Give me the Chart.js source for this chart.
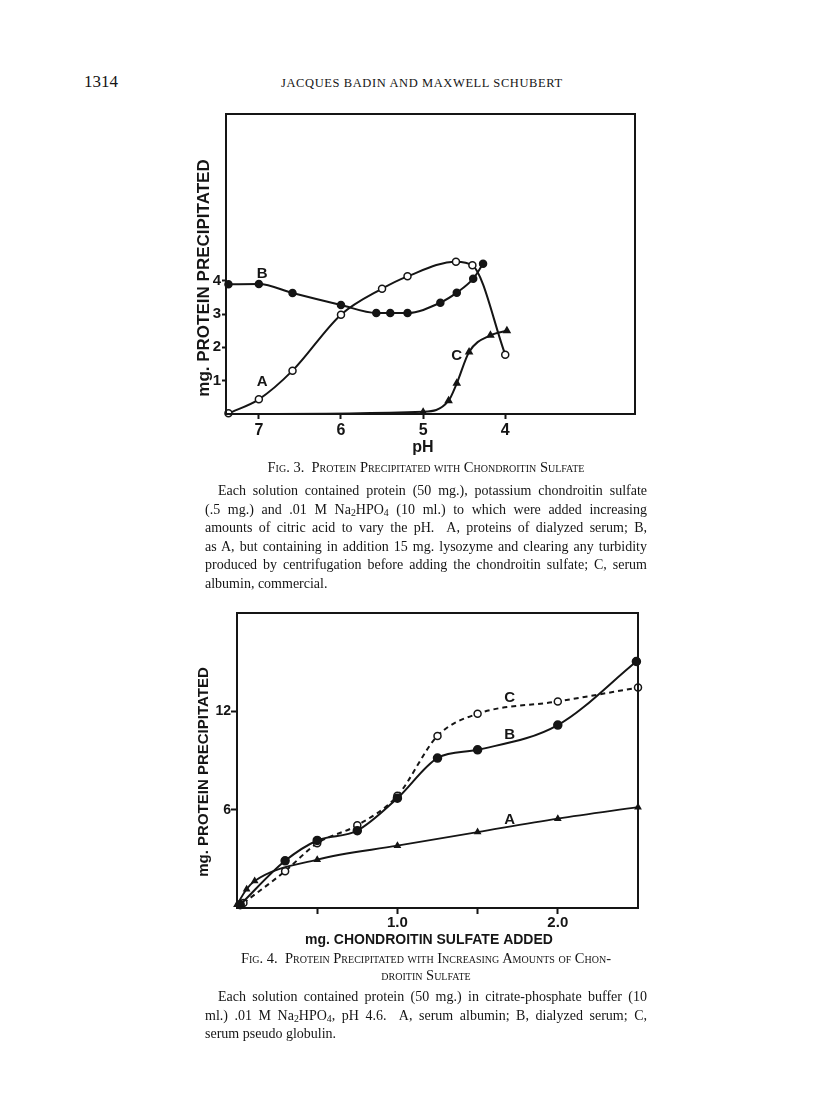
<!DOCTYPE html>
<html>
<head>
<meta charset="utf-8">
<script src="https://cdn.jsdelivr.net/npm/chart.js@4.4.1/dist/chart.umd.min.js"></script>
<style>
  body { margin: 0; background: #fff; }
  #page { position: relative; width: 816px; height: 1109px; overflow: hidden; font-family: "Liberation Serif", serif; color: #151515; }
  .abs { position: absolute; }
  .folio { left: 84px; top: 72px; font-size: 17px; }
  .running { left: 281px; top: 76px; font-size: 12.5px; letter-spacing: .6px; white-space: nowrap; }
  .cap { left: 205px; width: 442px; text-align: center; font-variant: small-caps; font-size: 14.5px; line-height: 17px; white-space: nowrap; }
  .para { left: 205px; width: 442px; font-size: 14px; line-height: 18.5px; }
  .para div { white-space: nowrap; text-align: justify; text-align-last: justify; }
  .para div.first { padding-left: 13px; }
  .para div.last { text-align: left; text-align-last: left; }
  sub { font-size: .7em; line-height: 0; vertical-align: -.25em; }
  canvas { position: absolute; }
</style>
</head>
<body>
<div id="page">
  <div class="abs folio">1314</div>
  <div class="abs running">JACQUES BADIN AND MAXWELL SCHUBERT</div>

  <canvas id="fig3" width="470" height="360" style="left:180px;top:100px"></canvas>

  <div class="abs cap" style="top:459px">Fig. 3.&nbsp; Protein Precipitated with Chondroitin Sulfate</div>
  <div class="abs para" style="top:482px">
    <div class="first">Each solution contained protein (50 mg.), potassium chondroitin sulfate</div>
    <div>(.5 mg.) and .01 M Na<sub>2</sub>HPO<sub>4</sub> (10 ml.) to which were added increasing</div>
    <div>amounts of citric acid to vary the pH.&nbsp; A, proteins of dialyzed serum; B,</div>
    <div>as A, but containing in addition 15 mg. lysozyme and clearing any turbidity</div>
    <div>produced by centrifugation before adding the chondroitin sulfate; C, serum</div>
    <div class="last">albumin, commercial.</div>
  </div>

  <canvas id="fig4" width="470" height="350" style="left:185px;top:600px"></canvas>

  <div class="abs cap" style="top:950px">Fig. 4.&nbsp; Protein Precipitated with Increasing Amounts of Chon-<br>droitin Sulfate</div>
  <div class="abs para" style="top:988px">
    <div class="first">Each solution contained protein (50 mg.) in citrate-phosphate buffer (10</div>
    <div>ml.) .01 M Na<sub>2</sub>HPO<sub>4</sub>, pH 4.6.&nbsp; A, serum albumin; B, dialyzed serum; C,</div>
    <div class="last">serum pseudo globulin.</div>
  </div>
</div>

<script>
  // Fig. 3 - protein precipitated against pH
  const phA = [7.37, 7.0, 6.59, 6.0, 5.5, 5.19, 4.6, 4.4, 4.0];
  const protA = [0.02, 0.44, 1.3, 2.98, 3.76, 4.13, 4.57, 4.46, 1.78];
  const phB = [7.37, 7.0, 6.59, 6.0, 5.57, 5.4, 5.19, 4.79, 4.59, 4.39, 4.27];
  const protB = [3.89, 3.9, 3.63, 3.27, 3.03, 3.03, 3.03, 3.34, 3.64, 4.06, 4.51];
  const phC = [7.37, 5.0, 4.69, 4.59, 4.44, 4.18, 3.98];
  const protC = [0, 0.07, 0.4, 0.92, 1.86, 2.36, 2.5];
  const phTicks = [7, 6, 5, 4];
  const fig3YTicks = [1, 2, 3, 4];

  // Fig. 4 - protein precipitated against chondroitin sulfate added
  const sulfA = [0, 0.06, 0.11, 0.5, 1.0, 1.5, 2.0, 2.5];
  const protA4 = [0.2, 1.15, 1.65, 2.95, 3.8, 4.63, 5.45, 6.15];
  const sulfB = [0.02, 0.3, 0.5, 0.75, 1.0, 1.25, 1.5, 2.0, 2.49];
  const protB4 = [0.2, 2.88, 4.12, 4.72, 6.7, 9.15, 9.65, 11.16, 15.04];
  const sulfC = [0.04, 0.3, 0.5, 0.75, 1.0, 1.25, 1.5, 2.0, 2.5];
  const protC4 = [0.3, 2.25, 3.95, 5.05, 6.85, 10.5, 11.85, 12.6, 13.45];
  const sulfTicks = [0.5, 1.0, 1.5, 2.0];
  const sulfLabels = ['', '1.0', '', '2.0'];
  const fig4YTicks = [6, 12];

  const ink = '#151515';
  const pts = (xs, ys) => xs.map((x, i) => ({ x: x, y: ys[i] }));

  // frame, curve letters and axis titles, drawn the way the figure is lettered
  const paperFrame = {
    id: 'paperFrame',
    afterDatasetsDraw(chart, args, opts) {
      const { ctx, chartArea: a } = chart;
      const x = chart.scales.x, y = chart.scales.y;
      ctx.save();
      ctx.strokeStyle = ink;
      ctx.lineWidth = 2;
      ctx.strokeRect(a.left, a.top, a.right - a.left, a.bottom - a.top);
      ctx.fillStyle = ink;
      ctx.textAlign = 'center';
      ctx.textBaseline = 'middle';
      ctx.font = 'bold 15px "Liberation Sans"';
      opts.letters.forEach(l => ctx.fillText(l.t, x.getPixelForValue(l.x), y.getPixelForValue(l.y)));
      ctx.font = opts.xTitleFont;
      ctx.fillText(opts.xTitle, opts.xTitleAt[0], opts.xTitleAt[1]);
      ctx.font = opts.yTitleFont;
      ctx.translate(opts.yTitleAt[0], opts.yTitleAt[1]);
      ctx.rotate(-Math.PI / 2);
      ctx.fillText(opts.yTitle, 0, 0);
      ctx.restore();
    }
  };

  function lineSet(xs, ys, style) {
    return Object.assign({
      data: pts(xs, ys),
      showLine: true,
      borderColor: ink,
      borderWidth: 2,
      cubicInterpolationMode: 'monotone',
      pointStyle: 'circle',
      pointRadius: 3.5,
      pointBackgroundColor: ink,
      pointBorderColor: ink,
      pointBorderWidth: 1.5,
      clip: false
    }, style);
  }

  function tickAxis(min, max, ticks, font, len, pad, extra) {
    return Object.assign({
      type: 'linear',
      min: min,
      max: max,
      afterBuildTicks: s => { s.ticks = ticks.map(v => ({ value: v })); },
      grid: { drawOnChartArea: false, drawTicks: true, tickLength: len, tickWidth: 2, tickColor: ink },
      border: { display: false },
      ticks: { color: ink, font: font, padding: pad }
    }, extra);
  }

  new Chart(document.getElementById('fig3'), {
    type: 'scatter',
    data: {
      datasets: [
        lineSet(phA, protA, { pointBackgroundColor: '#fff' }),
        lineSet(phB, protB, {}),
        lineSet(phC, protC, { pointStyle: 'triangle', pointRadius: [0, 3, 3.5, 3.5, 3.5, 3.5, 3.5] })
      ]
    },
    options: {
      responsive: false,
      animation: false,
      events: [],
      layout: { padding: { left: 26, top: 14, right: 15, bottom: 0 } },
      scales: {
        x: tickAxis(2.42, 7.4, phTicks, { family: 'Liberation Sans', weight: 'bold', size: 16 }, 5, 2,
          { reverse: true, afterFit: s => { s.height = 46; } }),
        y: tickAxis(0, 9, fig3YTicks, { family: 'Liberation Sans', weight: 'bold', size: 15 }, 4, 1,
          { afterFit: s => { s.width = 20; } })
      },
      plugins: {
        legend: { display: false },
        tooltip: { enabled: false },
        paperFrame: {
          letters: [{ t: 'A', x: 6.96, y: 0.95 }, { t: 'B', x: 6.96, y: 4.2 }, { t: 'C', x: 4.59, y: 1.75 }],
          xTitle: 'pH', xTitleAt: [243, 348], xTitleFont: 'bold 16px "Liberation Sans"',
          yTitle: 'mg. PROTEIN PRECIPITATED', yTitleAt: [24, 178], yTitleFont: 'bold 17px "Liberation Sans"'
        }
      }
    },
    plugins: [paperFrame]
  });

  new Chart(document.getElementById('fig4'), {
    type: 'scatter',
    data: {
      datasets: [
        lineSet(sulfA, protA4, { pointStyle: 'triangle', pointRadius: 3, borderWidth: 1.8 }),
        lineSet(sulfB, protB4, { pointRadius: 4 }),
        lineSet(sulfC, protC4, { pointBackgroundColor: '#fff', borderDash: [5, 4] })
      ]
    },
    options: {
      responsive: false,
      animation: false,
      events: [],
      layout: { padding: { left: 30, top: 13, right: 17, bottom: 0 } },
      scales: {
        x: tickAxis(0, 2.5, sulfTicks, { family: 'Liberation Sans', weight: 'bold', size: 15 }, 6, 0,
          { afterFit: s => { s.height = 42; }, ticks: { color: ink, font: { family: 'Liberation Sans', weight: 'bold', size: 15 }, padding: 0, callback: (v, i) => sulfLabels[i] } }),
        y: tickAxis(0, 18, fig4YTicks, { family: 'Liberation Sans', weight: 'bold', size: 14 }, 6, 0,
          { afterFit: s => { s.width = 22; } })
      },
      plugins: {
        legend: { display: false },
        tooltip: { enabled: false },
        paperFrame: {
          letters: [{ t: 'C', x: 1.7, y: 12.8 }, { t: 'B', x: 1.7, y: 10.55 }, { t: 'A', x: 1.7, y: 5.4 }],
          xTitle: 'mg. CHONDROITIN SULFATE ADDED', xTitleAt: [244, 340], xTitleFont: 'bold 14px "Liberation Sans"',
          yTitle: 'mg. PROTEIN PRECIPITATED', yTitleAt: [19, 172], yTitleFont: 'bold 15px "Liberation Sans"'
        }
      }
    },
    plugins: [paperFrame]
  });
</script>
</body>
</html>
